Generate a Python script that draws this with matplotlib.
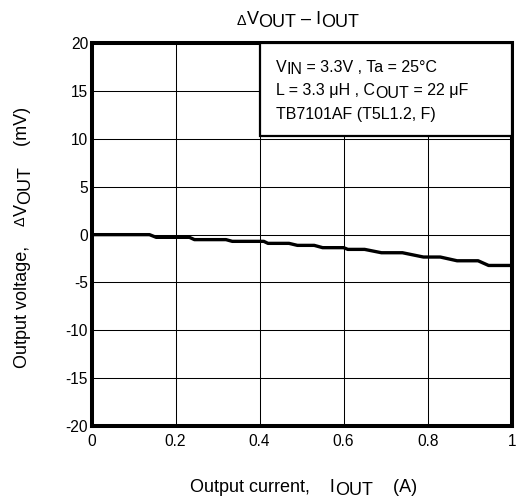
import matplotlib.pyplot as plt
from matplotlib.patches import Rectangle

plt.rcParams['font.family'] = ['Liberation Sans', 'DejaVu Sans']
plt.rcParams['axes.unicode_minus'] = False

# output current [A] and delta Vout [mV]
i_out = [0.0, 0.138, 0.154, 0.233, 0.245, 0.32, 0.335, 0.41, 0.42, 0.47,
         0.49, 0.53, 0.55, 0.60, 0.61, 0.65, 0.69, 0.74, 0.79, 0.83,
         0.87, 0.92, 0.945, 1.0]
dv_out = [0.0, 0.0, -0.28, -0.28, -0.52, -0.52, -0.7, -0.7, -0.91, -0.91,
          -1.12, -1.12, -1.36, -1.36, -1.54, -1.54, -1.89, -1.89, -2.34, -2.34,
          -2.73, -2.73, -3.22, -3.22]

x_ticks = [0, 0.2, 0.4, 0.6, 0.8, 1.0]
x_labels = ['0', '0.2', '0.4', '0.6', '0.8', '1']
y_ticks = [-20, -15, -10, -5, 0, 5, 10, 15, 20]


def chain(fig, x, y, parts, size, drop=2.0, rot=0, ha='left', va='baseline'):
    # writes the pieces one after the other; (text, lowered, size factor)
    first, low, k = parts[0]
    prev = fig.text(x, y, first, fontsize=size * k, rotation=rot, ha=ha, va=va, zorder=5)
    prev_low = low
    for s, low, k in parts[1:]:
        d = 0.0
        if low and not prev_low:
            d = drop
        elif prev_low and not low:
            d = -drop
        if rot == 90:
            prev = fig.axes[0].annotate(s, xy=(0, 1), xycoords=prev, xytext=(d, 0),
                                        textcoords='offset points', fontsize=size * k,
                                        rotation=90, ha='left', va='bottom',
                                        annotation_clip=False, zorder=5)
        else:
            prev = fig.axes[0].annotate(s, xy=(1, 0), xycoords=prev, xytext=(0, -d),
                                        textcoords='offset points', fontsize=size * k,
                                        ha='left', va='bottom',
                                        annotation_clip=False, zorder=5)
        prev_low = low


W, H = 519, 501
fig = plt.figure(figsize=(W / 100, H / 100), dpi=100)
ax = fig.add_axes([91.5 / W, 1 - 426 / H, 420.2 / W, 382.7 / H])

ax.plot(i_out, dv_out, color='black', lw=2.4, solid_joinstyle='round', zorder=3)
ax.set_xlim(0, 1)
ax.set_ylim(-20, 20)
ax.set_xticks(x_ticks)
ax.set_xticklabels(x_labels)
ax.set_yticks(y_ticks)
ax.tick_params(axis='both', length=0, labelsize=11.2)
ax.tick_params(axis='x', pad=5.5)
ax.tick_params(axis='y', pad=2.5)
ax.grid(True, color='black', lw=0.75)
for s in ax.spines.values():
    s.set_linewidth(2.9)

# condition box in top right corner
ax.add_patch(Rectangle((0.4, 10.27), 0.6, 9.73, facecolor='white', edgecolor='black',
                       lw=1.6, zorder=4))

chain(fig, 276 / W, 1 - 71.7 / H,
      [('V', False, 1), ('IN', True, 1), (' = 3.3V , Ta = 25°C', False, 1)], 11.5)
chain(fig, 276 / W, 1 - 95.5 / H,
      [('L = 3.3 μH , C', False, 1), ('OUT', True, 1), (' = 22 μF', False, 1)], 11.5)
chain(fig, 276 / W, 1 - 119.5 / H, [('TB7101AF (T5L1.2, F)', False, 1)], 11.5)

# title
chain(fig, 237 / W, 1 - 25 / H,
      [('Δ', False, 0.8), ('V', False, 1), ('OUT', True, 1), (' – I', False, 1), ('OUT', True, 1)],
      13, drop=2.2)

# axis labels
chain(fig, 190 / W, 1 - 492 / H,
      [('Output current,    I', False, 1), ('OUT', True, 1), ('    (A)', False, 1)], 13, drop=2.2)
chain(fig, 22.5 / W, 1 - 368 / H,
      [('Output voltage,    ', False, 1), ('Δ', False, 0.8), ('V', False, 1), ('OUT', True, 1),
       ('    (mV)', False, 1)],
      13, drop=2.2, rot=90, ha='center', va='bottom')

fig.savefig('out.png', dpi=100)
